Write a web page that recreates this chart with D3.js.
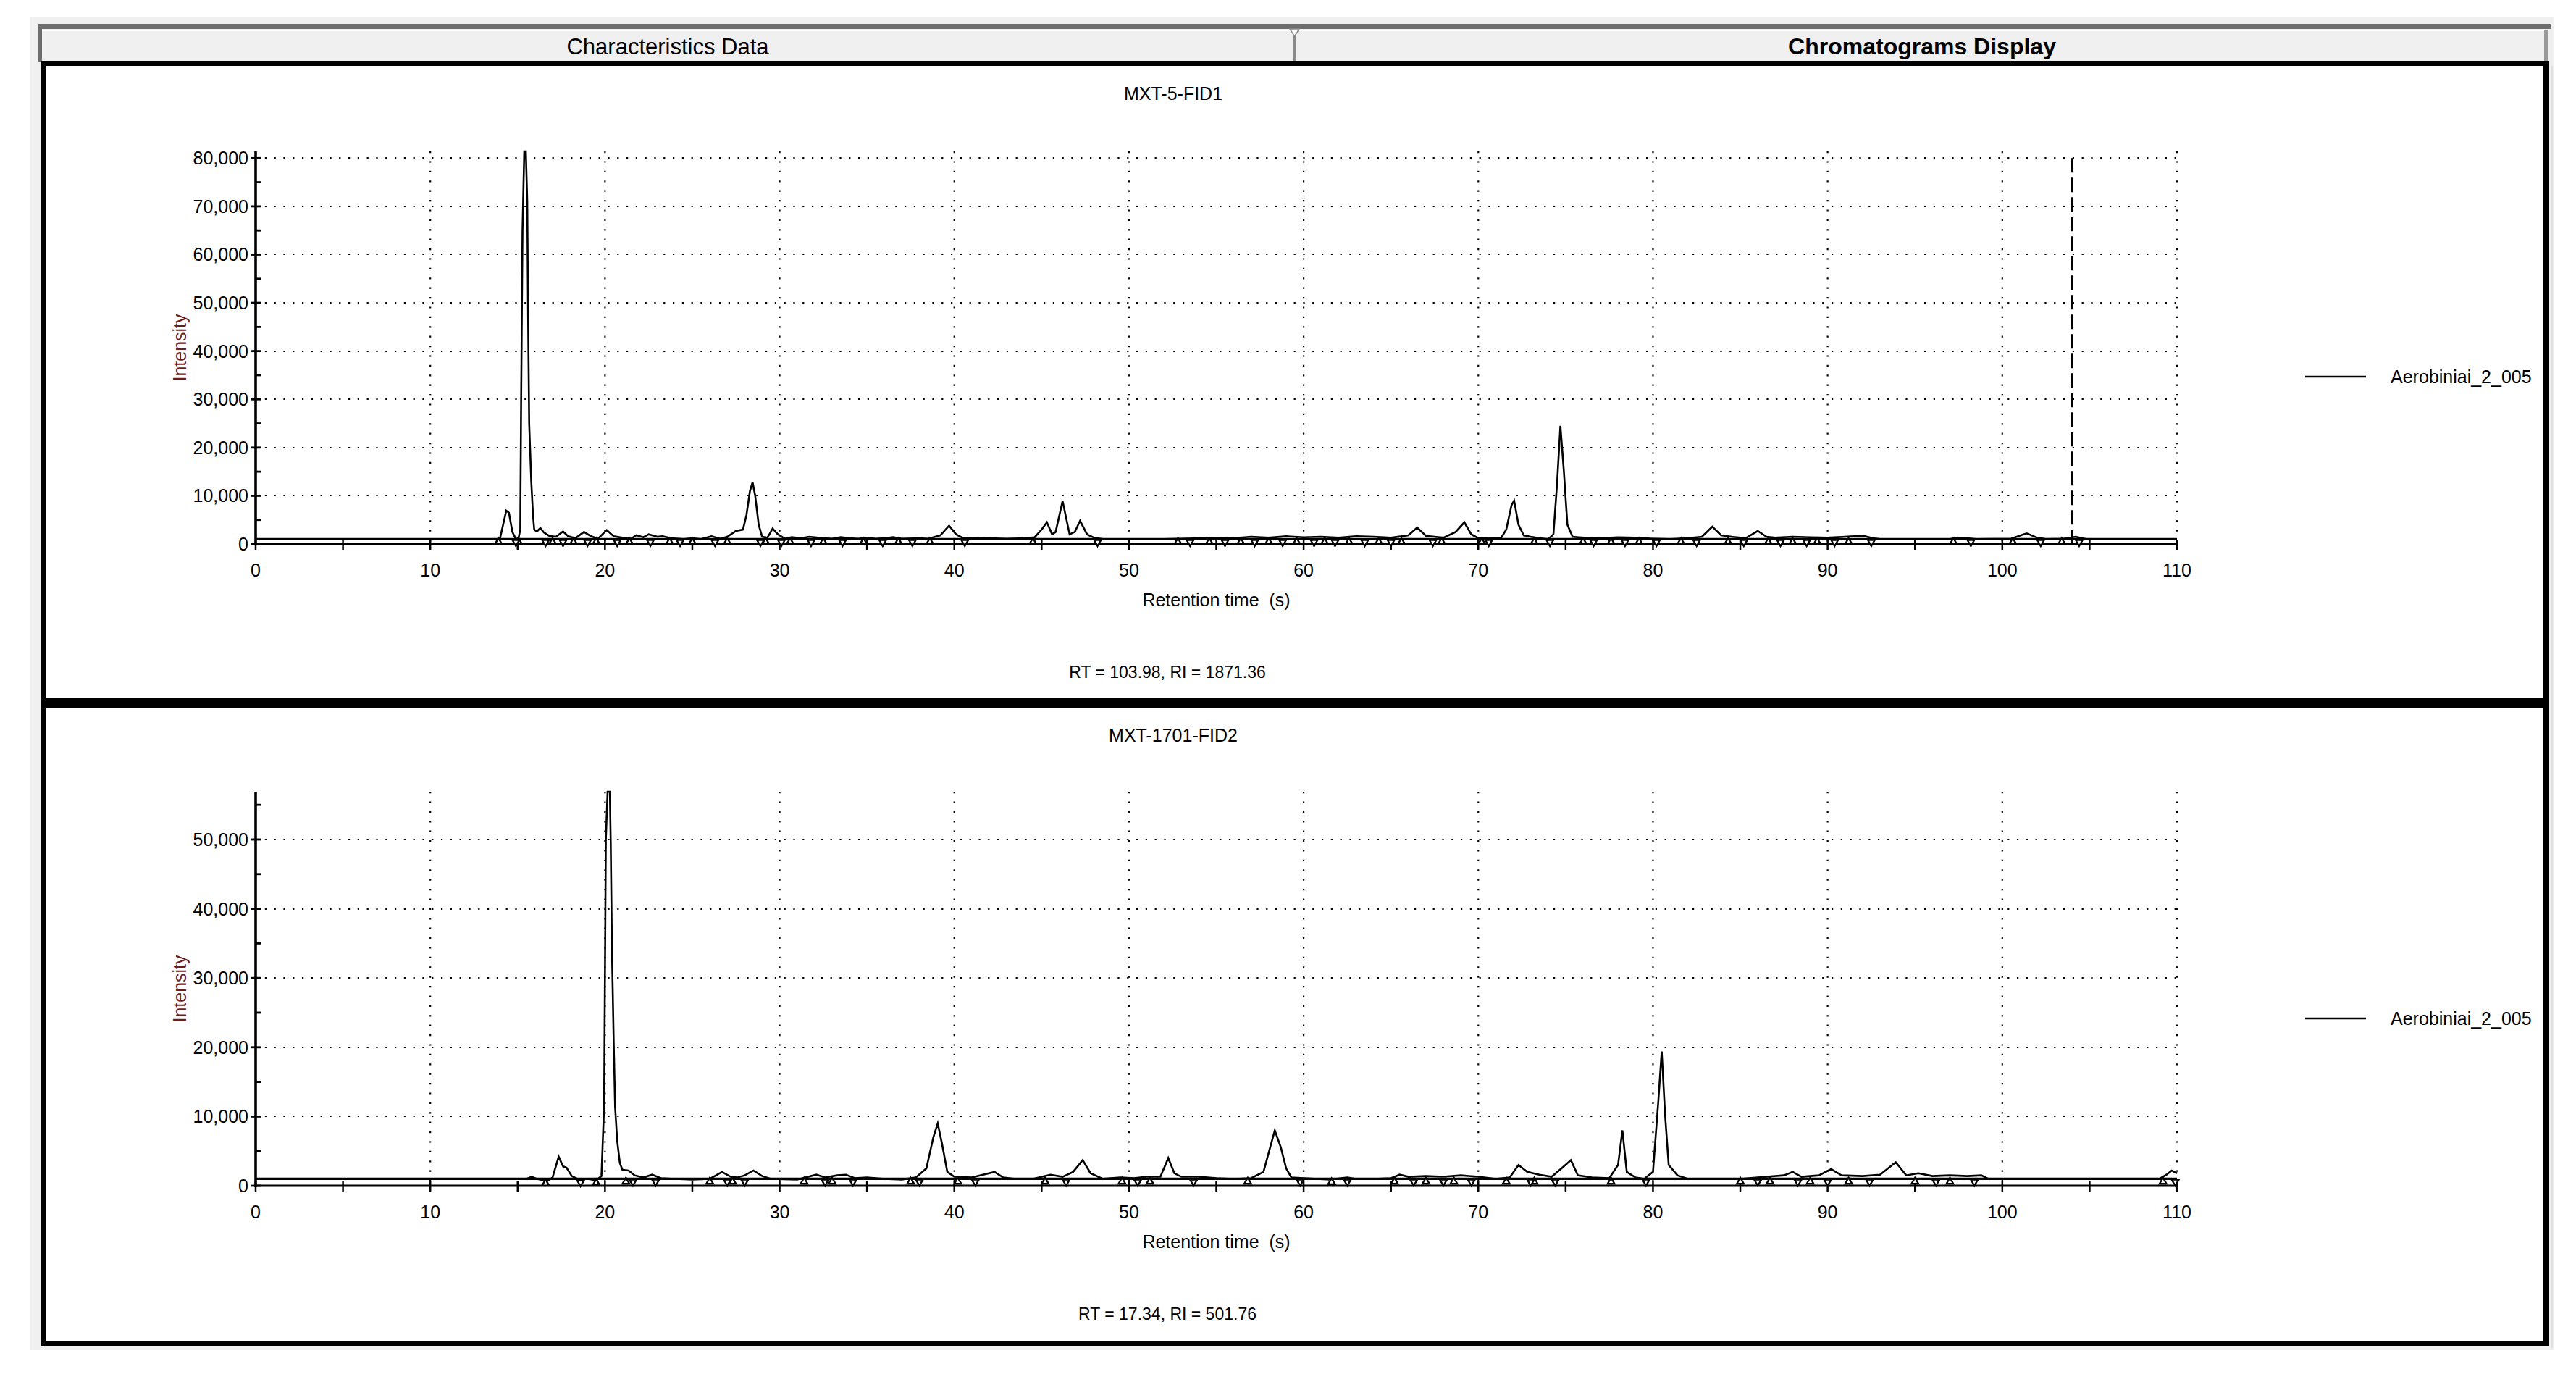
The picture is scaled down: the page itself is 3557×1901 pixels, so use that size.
<!DOCTYPE html>
<html><head><meta charset="utf-8">
<script src="https://cdn.jsdelivr.net/npm/d3@7"></script>
<style>
html,body{margin:0;padding:0;background:#fff;}
svg{display:block;font-family:"Liberation Sans",Arial,sans-serif;}
</style>
</head><body>
<svg id="c" width="3557" height="1901"></svg>
<script>
// ---------------- DATA ----------------
const tabLabels = ["Characteristics Data", "Chromatograms Display"];
const panelTitles = ["MXT-5-FID1", "MXT-1701-FID2"];
const cursorTexts = ["RT = 103.98, RI = 1871.36", "RT = 17.34, RI = 501.76"];
const seriesName = "Aerobiniai_2_005";
const xAxisTitle = "Retention time  (s)";
const yAxisTitle = "Intensity";
const xTickValues = [0, 10, 20, 30, 40, 50, 60, 70, 80, 90, 100, 110];
const yTickValues1 = [0, 10000, 20000, 30000, 40000, 50000, 60000, 70000, 80000];
const yTickValues2 = [0, 10000, 20000, 30000, 40000, 50000];
const yMaxValues = [81400, 56900];
const baselineLevels = [1000, 1000];
const cursorRT1 = 103.98;

// Panel 1 (MXT-5-FID1) chromatogram
const times1 = [0, 13.8, 14.0, 14.2, 14.35, 14.5, 14.7, 14.9, 15.05, 15.15, 15.2, 15.28, 15.38, 15.47, 15.55, 15.6, 15.66, 15.78, 15.88, 15.95,
  16.1, 16.3, 16.5, 16.8, 17.2, 17.6, 17.9, 18.3, 18.8, 19.2, 19.6, 20.1, 20.5, 21.0, 21.5, 21.8, 22.2, 22.5, 23.0, 23.3, 23.8, 24.5, 25.0, 25.5,
  26.1, 26.6, 27.0, 27.5, 27.9, 28.1, 28.3, 28.45, 28.6, 28.8, 29.0, 29.3, 29.6, 29.9, 30.3, 30.7, 31.2, 31.7, 32.2, 33.0, 33.5, 34.0, 34.5,
  35.0, 35.5, 36.0, 36.5, 37.0, 38.0, 38.5, 39.2, 39.7, 40.1, 40.5, 41.0, 42.0, 43.0, 44.0, 44.6, 45.0, 45.3, 45.6, 45.8, 46.2, 46.6, 46.9,
  47.2, 47.6, 48.0, 48.5, 50.0, 52.0, 53.0, 54.0, 55.0, 56.0, 57.0, 58.0, 59.0, 60.0, 61.0, 62.0, 63.0, 64.0, 65.0, 66.0, 66.5, 67.0, 67.5,
  68.0, 68.7, 69.2, 69.6, 70.0, 70.5, 71.3, 71.6, 71.9, 72.05, 72.3, 72.6, 73.0, 73.5, 74.0, 74.3, 74.5, 74.7, 74.9, 75.1, 75.4, 76.0, 77.0,
  78.0, 79.0, 80.0, 81.0, 82.0, 82.8, 83.4, 83.9, 84.5, 85.3, 86.0, 86.5, 87.0, 88.0, 89.0, 90.0, 91.0, 92.0, 92.6, 93.0, 97.0, 97.5, 98.0,
  98.5, 100.5, 101.4, 102.0, 102.5, 103.5, 104.2, 104.8, 110];
const values1 = [1000, 1000, 1300, 4500, 6900, 6500, 2500, 1000, 1200, 3000, 29000, 65000, 81400, 81400, 71000, 47000, 25000, 13000, 6000, 3000,
  2600, 3300, 2400, 1700, 1500, 2600, 1600, 1200, 2500, 1600, 1100, 2900, 1600, 1300, 1100, 1800, 1400, 2000, 1500, 1600, 1200, 1000, 1200, 1000,
  1600, 1100, 1500, 2700, 3000, 6000, 11000, 12800, 10000, 4000, 1500, 1300, 3200, 2000, 1100, 1400, 1200, 1500, 1300, 1100, 1400, 1200, 1100,
  1300, 1100, 1200, 1400, 1100, 1200, 1100, 1800, 3800, 2000, 1200, 1300, 1200, 1100, 1200, 1400, 3000, 4500, 2000, 2500, 8900, 2000, 2500,
  4800, 2000, 1300, 1000, 1000, 1000, 1100, 1200, 1300, 1200, 1500, 1300, 1600, 1400, 1500, 1300, 1600, 1500, 1300, 1800, 3400, 1700, 1500,
  1300, 2500, 4500, 2000, 1200, 1300, 1200, 3000, 8000, 9000, 4000, 1800, 1500, 1200, 1000, 2000, 12000, 24500, 15000, 4000, 1500, 1300, 1200,
  1400, 1300, 1100, 1000, 1200, 1500, 3600, 1800, 1500, 1200, 2700, 1500, 1300, 1500, 1400, 1300, 1500, 1700, 1200, 1000, 1000, 1300, 1200,
  1000, 1100, 2200, 1300, 1000, 1100, 1500, 1000, 1000];
const peakStarts1 = [13.9, 15.05, 17.0, 18.2, 19.5, 21.4, 23.7, 25.0, 27.0, 29.2, 30.6, 32.5, 34.8, 36.8, 38.6, 44.5, 52.8, 54.6, 56.4, 58.0,
  59.6, 61.2, 62.6, 64.3, 65.6, 67.9, 70.2, 73.2, 76.0, 77.6, 79.2, 81.6, 84.3, 86.6, 88.0, 89.4, 91.2, 97.2, 100.6, 103.4];
const peakEnds1 = [14.9, 16.6, 17.6, 19.0, 20.7, 22.6, 24.3, 26.3, 28.9, 30.1, 31.8, 33.6, 35.9, 37.6, 40.6, 48.2, 53.5, 55.5, 57.2, 58.8,
  60.6, 61.8, 63.5, 65.0, 67.4, 70.6, 74.1, 76.6, 78.4, 80.2, 82.5, 85.2, 87.3, 88.8, 90.4, 92.5, 98.2, 102.2, 104.4];

// Panel 2 (MXT-1701-FID2) chromatogram
const times2 = [0, 15.5, 15.8, 16.1, 16.7, 17.0, 17.35, 17.6, 17.8, 18.1, 18.5, 19.0, 19.5, 19.8, 19.95, 20.05, 20.15, 20.28, 20.33, 20.4, 20.5,
  20.58, 20.7, 20.85, 21.0, 21.35, 21.7, 22.2, 22.7, 23.2, 24.0, 25.0, 26.0, 26.7, 27.2, 27.6, 28.0, 28.5, 29.0, 29.5, 31.0, 32.1, 32.6, 33.3,
  33.8, 34.3, 35.0, 36.0, 37.0, 37.8, 38.4, 38.8, 39.05, 39.3, 39.6, 40.0, 41.0, 42.3, 42.8, 43.5, 44.5, 45.5, 46.2, 46.8, 47.35, 47.8, 48.5,
  49.5, 50.3, 51.0, 51.8, 52.25, 52.6, 53.0, 54.0, 55.0, 56.0, 57.0, 57.7, 58.35, 58.7, 59.0, 59.3, 60.0, 61.5, 62.5, 63.0, 64.0, 65.0, 65.5,
  66.0, 67.0, 68.0, 69.0, 70.0, 71.0, 71.8, 72.3, 72.8, 73.5, 74.2, 74.8, 75.3, 75.7, 76.5, 77.5, 78.0, 78.25, 78.5, 79.0, 79.5, 80.0, 80.3,
  80.5, 80.7, 80.9, 81.4, 82.0, 83.0, 85.0, 86.0, 87.5, 88.0, 88.5, 89.5, 90.2, 90.8, 92.0, 93.0, 93.9, 94.5, 95.2, 96.0, 97.0, 98.0, 98.8,
  99.2, 109.0, 109.4, 109.7, 110];
const values2 = [1000, 1000, 1300, 1000, 700, 1200, 4200, 2800, 2600, 1400, 900, 1000, 800, 1400, 11500, 50000, 56900, 56900, 49500, 34000, 20700,
  11400, 6500, 3300, 2300, 2200, 1500, 1200, 1600, 1100, 1000, 900, 1000, 2000, 1300, 1200, 1500, 2200, 1400, 1000, 900, 1600, 1200, 1500,
  1600, 1100, 1200, 1000, 900, 1200, 2500, 7000, 9000, 6000, 2000, 1300, 1200, 2000, 1200, 1000, 1000, 1600, 1300, 2000, 3700, 1800, 1000,
  1200, 1100, 1300, 1300, 4000, 1800, 1300, 1300, 1100, 1000, 1100, 2000, 8000, 5500, 2500, 1200, 1100, 900, 1200, 1000, 1000, 1100, 1600,
  1300, 1400, 1300, 1500, 1300, 1000, 1200, 3000, 2000, 1600, 1300, 2600, 3700, 1500, 1200, 1100, 3000, 8000, 2000, 1200, 1000, 2000, 12000,
  19400, 10000, 3000, 1500, 1000, 1000, 1000, 1200, 1500, 2000, 1300, 1500, 2400, 1500, 1400, 1600, 3400, 1500, 1800, 1400, 1500, 1400, 1500,
  1000, 1000, 1600, 2200, 1800];
const peakStarts2 = [16.6, 19.5, 21.2, 26.0, 27.3, 31.4, 33.0, 37.5, 40.2, 45.2, 49.6, 51.2, 56.8, 61.6, 65.2, 67.0, 68.6, 71.6, 73.2, 77.6,
  85.0, 86.7, 89.0, 91.2, 95.0, 97.0, 109.2];
const peakEnds2 = [18.6, 21.6, 22.9, 27.0, 28.0, 32.6, 34.2, 38.0, 41.2, 46.4, 50.5, 53.7, 59.8, 62.5, 66.3, 68.0, 69.6, 73.0, 74.4, 79.6,
  86.0, 88.3, 90.0, 92.4, 96.2, 98.4, 109.9];

// ---------------- DRAWING ----------------
const svg = d3.select("#c");
const FONT = 25;

// window background
svg.append("rect").attr("x", 42).attr("y", 24).attr("width", 3485).attr("height", 1840).attr("fill", "#f0f0f0");

// tab strip
svg.append("rect").attr("x", 52).attr("y", 33).attr("width", 3470).attr("height", 7).attr("fill", "#6e6e6e");
svg.append("rect").attr("x", 52).attr("y", 33).attr("width", 6).attr("height", 52).attr("fill", "#6e6e6e");
svg.append("rect").attr("x", 58).attr("y", 41).attr("width", 3455).attr("height", 2).attr("fill", "#ffffff");
svg.append("rect").attr("x", 3513).attr("y", 42).attr("width", 6).attr("height", 43).attr("fill", "#9a9a9a");
svg.append("rect").attr("x", 1786).attr("y", 40).attr("width", 3).attr("height", 45).attr("fill", "#8a8a8a");
svg.append("path").attr("d", "M1781,40 L1794,40 L1787.5,50 Z").attr("fill", "#ffffff").attr("stroke", "#8a8a8a").attr("stroke-width", 1.5);

svg.append("text").attr("x", 922).attr("y", 64).attr("text-anchor", "middle").attr("dominant-baseline", "central")
  .attr("font-size", 31).attr("fill", "#000").text(tabLabels[0]);
svg.append("text").attr("x", 2654).attr("y", 64).attr("text-anchor", "middle").attr("dominant-baseline", "central")
  .attr("font-size", 32).attr("font-weight", "bold").attr("fill", "#000").text(tabLabels[1]);

// panels frame
svg.append("rect").attr("x", 57).attr("y", 84).attr("width", 3463).attr("height", 1774).attr("fill", "#000");
svg.append("rect").attr("x", 63).attr("y", 91).attr("width", 3449).attr("height", 872).attr("fill", "#fff");
svg.append("rect").attr("x", 63).attr("y", 977).attr("width", 3449).attr("height", 874).attr("fill", "#fff");
svg.append("rect").attr("x", 3523).attr("y", 91).attr("width", 2).attr("height", 1770).attr("fill", "#e0e0e0");

const X0 = 353, X1 = 3006;

const panels = [
  {top: 91, title: panelTitles[0], yTicks: yTickValues1, yMax: yMaxValues[0], times: times1, values: values1,
   base: baselineLevels[0], starts: peakStarts1, ends: peakEnds1, cursor: cursorRT1, info: cursorTexts[0]},
  {top: 977, title: panelTitles[1], yTicks: yTickValues2, yMax: yMaxValues[1], times: times2, values: values2,
   base: baselineLevels[1], starts: peakStarts2, ends: peakEnds2, cursor: null, info: cursorTexts[1]}
];

panels.forEach((p, idx) => {
  const g = svg.append("g");
  const yBottom = p.top + 660;
  const yTop = p.top + (idx === 0 ? 118 : 116);
  const x = d3.scaleLinear().domain([0, 110]).range([X0, X1]);
  const y = d3.scaleLinear().domain([0, p.yMax]).range([yBottom, yTop]);

  // title
  g.append("text").attr("x", 1620).attr("y", p.top + 38).attr("text-anchor", "middle").attr("dominant-baseline", "central")
    .attr("font-size", FONT).text(p.title);

  // gridlines (dotted)
  const gridY = p.yTicks.filter(v => v > 0);
  g.selectAll(".hg").data(gridY).enter().append("line")
    .attr("x1", X0).attr("x2", X1).attr("y1", d => Math.round(y(d))).attr("y2", d => Math.round(y(d)))
    .attr("stroke", "#000").attr("stroke-width", 2.2).attr("stroke-dasharray", "2.2 10.6");
  g.selectAll(".vg").data(xTickValues.filter(v => v > 0)).enter().append("line")
    .attr("x1", d => x(d)).attr("x2", d => x(d)).attr("y1", yTop).attr("y2", yBottom)
    .attr("stroke", "#000").attr("stroke-width", 2.2).attr("stroke-dasharray", "2.2 11.2");

  // x axis
  const xMinor = d3.range(0, 111, 5);
  g.append("line").attr("x1", X0).attr("x2", X1).attr("y1", yBottom).attr("y2", yBottom)
    .attr("stroke", "#000").attr("stroke-width", 3.2);
  g.selectAll(".xt").data(xMinor).enter().append("line")
    .attr("x1", d => x(d)).attr("x2", d => x(d)).attr("y1", yBottom - 6).attr("y2", yBottom + 8)
    .attr("stroke", "#000").attr("stroke-width", 2.5);
  g.selectAll(".xl").data(xTickValues).enter().append("text")
    .attr("x", d => x(d)).attr("y", yBottom + 36).attr("text-anchor", "middle").attr("dominant-baseline", "central")
    .attr("font-size", FONT).text(d => d3.format("d")(d));
  g.append("text").attr("x", (X0 + X1) / 2).attr("y", yBottom + 77).attr("text-anchor", "middle")
    .attr("dominant-baseline", "central").attr("font-size", FONT).attr("xml:space", "preserve")
    .style("white-space", "pre").text(xAxisTitle);

  // y axis
  g.append("line").attr("x1", X0).attr("x2", X0).attr("y1", yTop).attr("y2", yBottom + 2)
    .attr("stroke", "#000").attr("stroke-width", 3.6);
  const yMinor = d3.range(5000, p.yMax, 10000);
  g.selectAll(".ymin").data(yMinor).enter().append("line")
    .attr("x1", X0).attr("x2", X0 + 7).attr("y1", d => y(d)).attr("y2", d => y(d))
    .attr("stroke", "#000").attr("stroke-width", 2.8);
  g.selectAll(".ymaj").data(p.yTicks).enter().append("line")
    .attr("x1", X0 - 7).attr("x2", X0 + 7).attr("y1", d => y(d)).attr("y2", d => y(d))
    .attr("stroke", "#000").attr("stroke-width", 2.8);
  g.selectAll(".yl").data(p.yTicks).enter().append("text")
    .attr("x", X0 - 10).attr("y", d => y(d)).attr("text-anchor", "end").attr("dominant-baseline", "central")
    .attr("font-size", FONT).text(d => d3.format(",")(d));
  g.append("text").attr("transform", `translate(248,${(yTop + yBottom) / 2}) rotate(-90)`)
    .attr("text-anchor", "middle").attr("dominant-baseline", "central").attr("font-size", 25)
    .attr("fill", "#6e1b1b").text(yAxisTitle);

  // baseline level line
  g.append("line").attr("x1", x(0)).attr("x2", x(110)).attr("y1", y(p.base)).attr("y2", y(p.base))
    .attr("stroke", "#000").attr("stroke-width", 3.2);

  // chromatogram trace
  const pts = p.times.map((t, i) => [t, p.values[i]]);
  const line = d3.line().x(d => x(d[0])).y(d => y(d[1]));
  g.append("path").datum(pts).attr("d", line).attr("fill", "none").attr("stroke", "#000")
    .attr("stroke-width", 2.6).attr("stroke-linejoin", "miter");

  // peak start/end markers
  const interp = t => {
    const i = d3.bisectLeft(p.times, t);
    if (i <= 0) return p.values[0];
    if (i >= p.times.length) return p.values[p.values.length - 1];
    const t0 = p.times[i - 1], t1 = p.times[i];
    const f = (t - t0) / (t1 - t0);
    return p.values[i - 1] + f * (p.values[i] - p.values[i - 1]);
  };
  const tri = d3.symbol().type(d3.symbolTriangle).size(40);
  g.selectAll(".ms").data(p.starts).enter().append("path")
    .attr("d", tri).attr("transform", d => `translate(${x(d)},${y(Math.min(interp(d), p.base)) + 4})`)
    .attr("fill", "#fff").attr("stroke", "#000").attr("stroke-width", 2.4);
  g.selectAll(".me").data(p.ends).enter().append("path")
    .attr("d", tri).attr("transform", d => `translate(${x(d)},${y(Math.min(interp(d), p.base)) + 4}) rotate(180)`)
    .attr("fill", "#fff").attr("stroke", "#000").attr("stroke-width", 2.4);

  // cursor
  if (p.cursor !== null) {
    g.append("line").attr("x1", x(p.cursor)).attr("x2", x(p.cursor)).attr("y1", y(80000)).attr("y2", yBottom)
      .attr("stroke", "#000").attr("stroke-width", 2.4).attr("stroke-dasharray", "20 7");
  }

  // info text
  g.append("text").attr("x", 1612).attr("y", yBottom + 177).attr("text-anchor", "middle").attr("dominant-baseline", "central")
    .attr("font-size", 23).text(p.info);

  // legend
  const ly = p.top + 429;
  g.append("line").attr("x1", 3183).attr("x2", 3267).attr("y1", ly).attr("y2", ly).attr("stroke", "#000").attr("stroke-width", 2.5);
  g.append("text").attr("x", 3301).attr("y", ly).attr("dominant-baseline", "central").attr("font-size", FONT).text(seriesName);
});
</script>
</body></html>
